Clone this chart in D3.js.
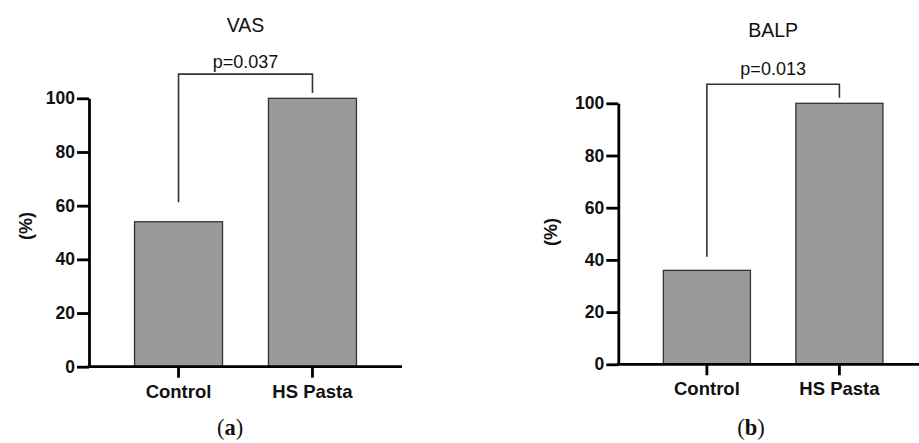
<!DOCTYPE html>
<html>
<head>
<meta charset="utf-8">
<script src="https://cdn.jsdelivr.net/npm/d3@7"></script>
<style>
  html, body { margin: 0; padding: 0; background: #fff; }
  svg { display: block; }
</style>
</head>
<body>
<svg id="chart" width="919" height="443"></svg>
<script>
// ---- data ----
const categories = ["Control", "HS Pasta"];
const vasValues = [54, 100];
const balpValues = [36, 100];
const yTicks = [0, 20, 40, 60, 80, 100];
const panelTitles = ["VAS", "BALP"];
const pLabels = ["p=0.037", "p=0.013"];
const bracketTop = [109, 107.3];          // bracket bar level (data units)
const bracketLegEnds = [[61.3, 102], [41.2, 102.1]]; // leg ends (data units)
const captions = ["a", "b"];

// ---- layout ----
const panels = [
  { values: vasValues, x0: 89, x1: 402, y0: 366.7, y1: 98.3, titleY: 32, pY: 68, cap: 230, yl: [26, 226] },
  { values: balpValues, x0: 618.3, x1: 928, y0: 364.3, y1: 103.3, titleY: 36.5, pY: 74.5, cap: 751, yl: [551, 232] }
];

const svg = d3.select("#chart");
const sans = "'Liberation Sans', Arial, Helvetica, sans-serif";

panels.forEach((p, i) => {
  const g = svg.append("g");
  const x = d3.scaleBand().domain(categories).range([p.x0, p.x1])
    .paddingInner(0.343).paddingOuter(0.34);
  const y = d3.scaleLinear().domain([0, 100]).range([p.y0, p.y1]);

  // bars
  g.selectAll("rect.bar").data(p.values).enter().append("rect")
    .attr("class", "bar")
    .attr("x", (d, j) => x(categories[j]))
    .attr("width", x.bandwidth())
    .attr("y", d => y(d))
    .attr("height", d => y(0) - y(d))
    .attr("fill", "#9a9a9a")
    .attr("stroke", "#333")
    .attr("stroke-width", 1.3);

  // y axis
  const yAxis = g.append("g").attr("transform", `translate(${p.x0},0)`)
    .call(d3.axisLeft(y).tickValues(yTicks).tickSize(12).tickPadding(2).tickSizeOuter(0));
  yAxis.select(".domain").attr("stroke", "#000").attr("stroke-width", 2.8);
  yAxis.selectAll(".tick line").attr("stroke", "#000").attr("stroke-width", 2.8);
  yAxis.selectAll(".tick text")
    .attr("font-family", sans).attr("font-weight", "bold")
    .attr("font-size", "17.5px").attr("fill", "#111");

  // x axis
  const xAxis = g.append("g").attr("transform", `translate(0,${p.y0})`)
    .call(d3.axisBottom(x).tickSize(11).tickPadding(7).tickSizeOuter(0));
  xAxis.select(".domain").attr("stroke", "#000").attr("stroke-width", 2.8)
    .attr("d", `M${p.x0 - 1.4},0H${p.x1}`);
  xAxis.selectAll(".tick line").attr("stroke", "#000").attr("stroke-width", 2.8);
  xAxis.selectAll(".tick text")
    .attr("font-family", sans).attr("font-weight", "bold")
    .attr("font-size", "18.5px").attr("fill", "#111");

  // y label
  g.append("text")
    .attr("transform", `translate(${p.yl[0]},${p.yl[1]}) rotate(-90)`)
    .attr("text-anchor", "middle")
    .attr("dy", "0.35em")
    .attr("font-family", sans).attr("font-weight", "bold")
    .attr("font-size", "18px").attr("fill", "#111")
    .text("(%)");

  // bracket
  const cx0 = x(categories[0]) + x.bandwidth() / 2;
  const cx1 = x(categories[1]) + x.bandwidth() / 2;
  const legs = bracketLegEnds[i];
  g.append("path")
    .attr("d", `M${cx0},${y(legs[0])}V${y(bracketTop[i])}H${cx1}V${y(legs[1])}`)
    .attr("fill", "none").attr("stroke", "#333").attr("stroke-width", 1.6);

  const mid = (cx0 + cx1) / 2;
  // p-value
  g.append("text")
    .attr("x", mid).attr("y", p.pY)
    .attr("text-anchor", "middle")
    .attr("font-family", sans).attr("font-size", "18px").attr("fill", "#111")
    .text(pLabels[i]);

  // title
  g.append("text")
    .attr("x", mid).attr("y", p.titleY)
    .attr("text-anchor", "middle")
    .attr("font-family", sans).attr("font-size", "19.5px").attr("fill", "#111")
    .text(panelTitles[i]);

  // caption
  const cap = g.append("text")
    .attr("x", p.cap).attr("y", 435)
    .attr("text-anchor", "middle")
    .attr("font-family", "'Liberation Serif', 'DejaVu Serif', serif")
    .attr("font-size", "22.5px").attr("fill", "#111");
  cap.append("tspan").text("(");
  cap.append("tspan").attr("font-weight", "bold").text(captions[i]);
  cap.append("tspan").text(")");
});
</script>
</body>
</html>
